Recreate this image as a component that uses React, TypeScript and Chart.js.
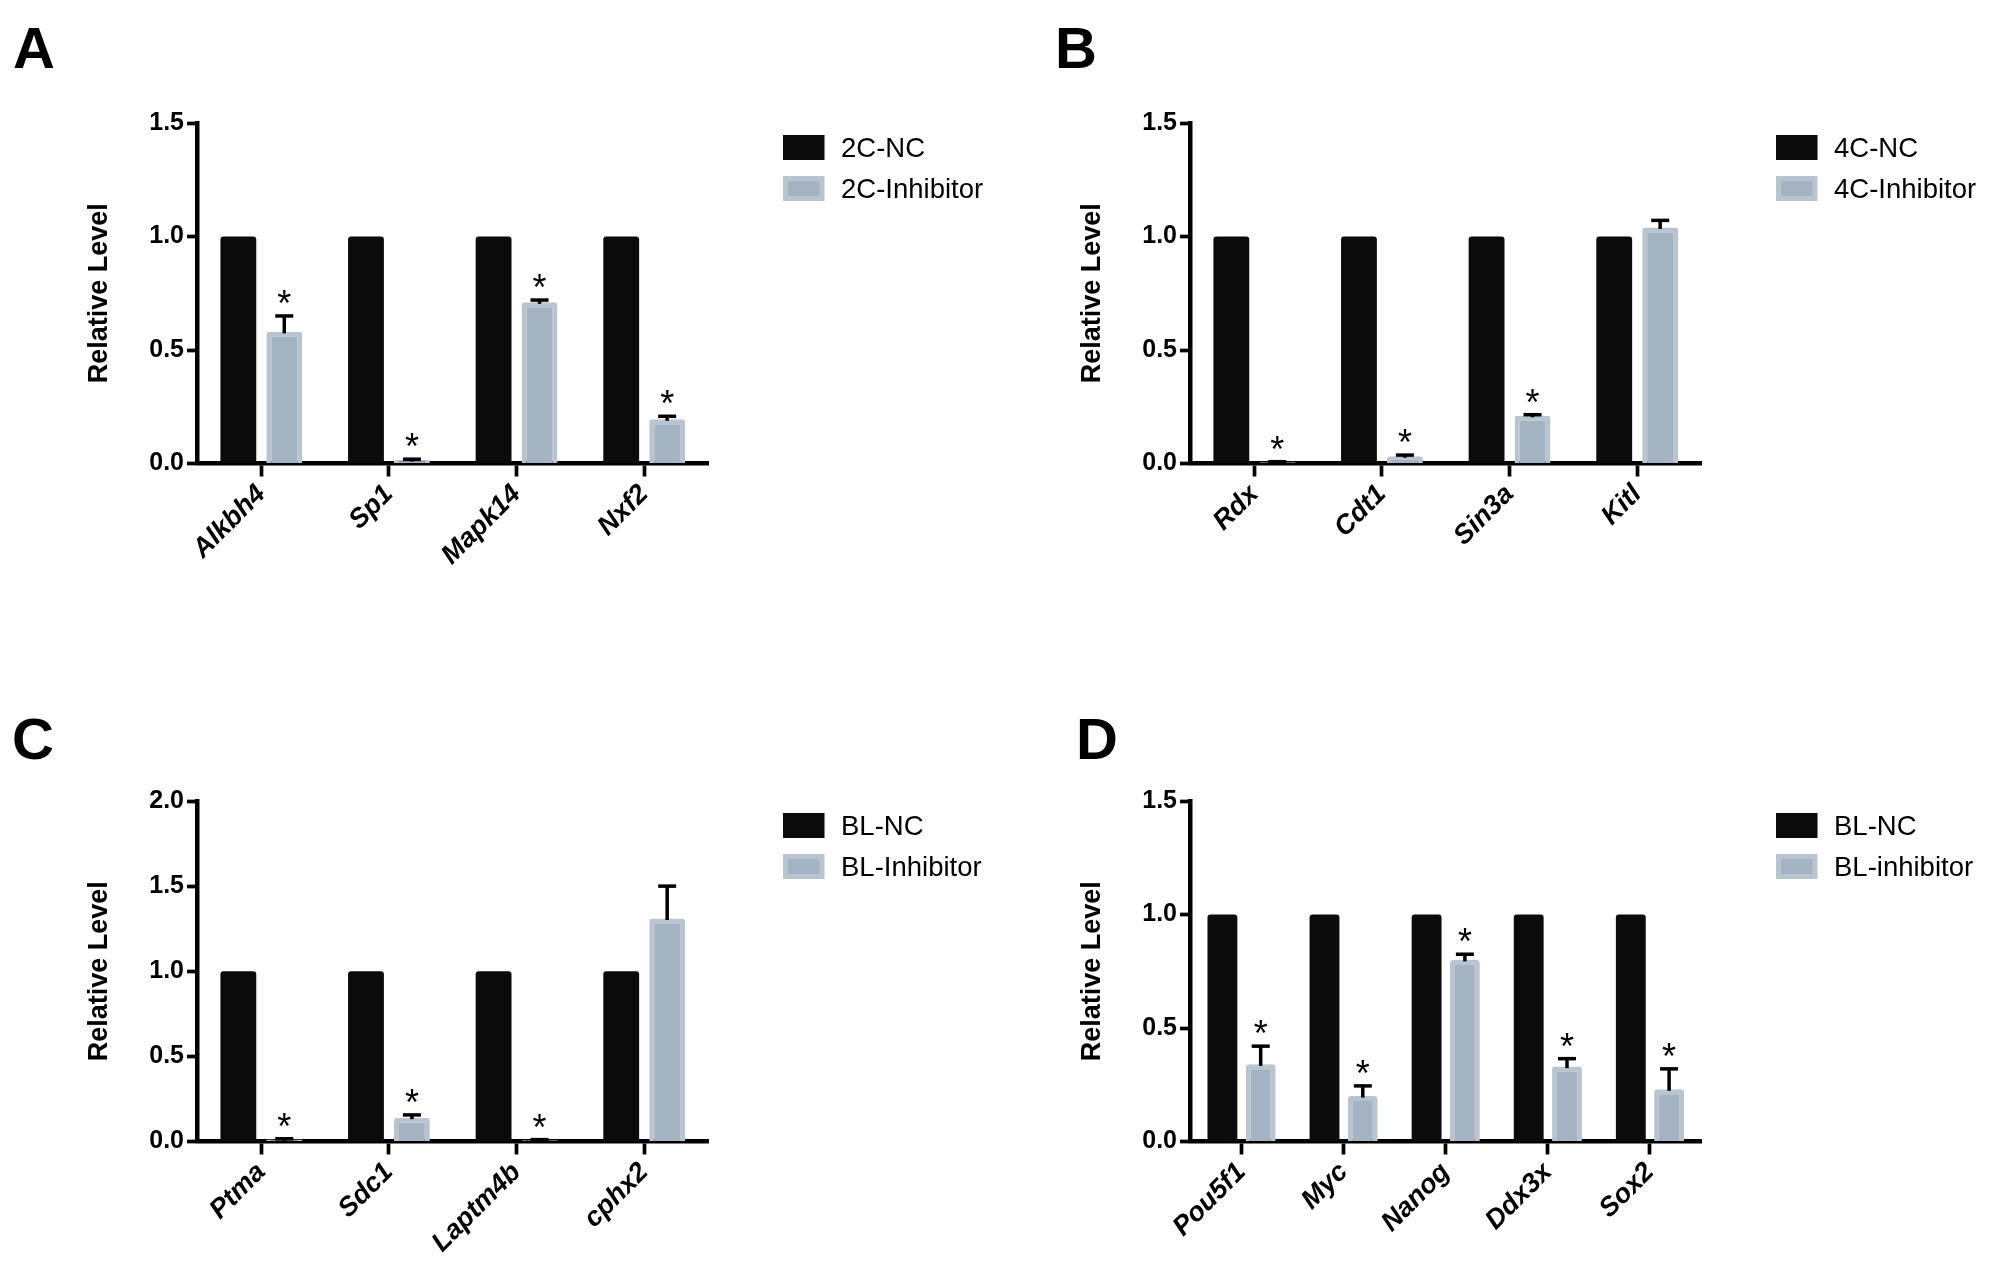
import React, { useEffect, useRef } from "react";
import { Chart, registerables } from "chart.js";

Chart.register(...registerables);

// ---------- data ----------
// Panel A
const catsA = ["Alkbh4", "Sp1", "Mapk14", "Nxf2"];
const seriesA = ["2C-NC", "2C-Inhibitor"];
const ncA = [1, 1, 1, 1];
const inhA = [0.58, 0.015, 0.71, 0.195];
const errA = [0.07, 0.004, 0.01, 0.013];
const sigA = [true, true, true, true];

// Panel B
const catsB = ["Rdx", "Cdt1", "Sin3a", "Kitl"];
const seriesB = ["4C-NC", "4C-Inhibitor"];
const ncB = [1, 1, 1, 1];
const inhB = [0.006, 0.032, 0.21, 1.04];
const errB = [0.002, 0.005, 0.005, 0.031];
const sigB = [true, true, true, false];

// Panel C
const catsC = ["Ptma", "Sdc1", "Laptm4b", "cphx2"];
const seriesC = ["BL-NC", "BL-Inhibitor"];
const ncC = [1, 1, 1, 1];
const inhC = [0.012, 0.14, 0.008, 1.31];
const errC = [0.004, 0.016, 0.003, 0.19];
const sigC = [true, true, true, false];

// Panel D
const catsD = ["Pou5f1", "Myc", "Nanog", "Ddx3x", "Sox2"];
const seriesD = ["BL-NC", "BL-inhibitor"];
const ncD = [1, 1, 1, 1, 1];
const inhD = [0.34, 0.2, 0.8, 0.33, 0.23];
const errD = [0.08, 0.045, 0.025, 0.035, 0.09];
const sigD = [true, true, true, true, true];

// y axis ranges
const yMaxA = 1.5;
const yMaxB = 1.5;
const yMaxC = 2.0;
const yMaxD = 1.5;
const yStep = 0.5;
const yTitle = "Relative Level";

// ---------- style ----------
const FONT = '"Liberation Sans", Arial, Helvetica, sans-serif';
const NC_COLOR = "#0b0b0b";
const INH_FILL = "#a4b3c2";
const INH_BORDER = "#b8c5d1";

const PLOT_TOP = 123;
const PLOT_BOTTOM = 463.5;
const PLOT_LEFT = 197.5;
const PLOT_RIGHT = 708;

type Panel = {
  letter: string;
  letterX: number;
  letterY: number;
  cats: string[];
  series: string[];
  nc: number[];
  inh: number[];
  err: number[];
  sig: boolean[];
  yMax: number;
  left: number;
  top: number;
  w: number;
  h: number;
  catPct: number;
};

const panels: Panel[] = [
  { letter: "A", letterX: 13, letterY: 68, cats: catsA, series: seriesA, nc: ncA, inh: inhA, err: errA, sig: sigA, yMax: yMaxA, left: 0, top: 0, w: 993, h: 678, catPct: 0.72 },
  { letter: "B", letterX: 62, letterY: 68, cats: catsB, series: seriesB, nc: ncB, inh: inhB, err: errB, sig: sigB, yMax: yMaxB, left: 993, top: 0, w: 1015, h: 678, catPct: 0.72 },
  { letter: "C", letterX: 12, letterY: 81, cats: catsC, series: seriesC, nc: ncC, inh: inhC, err: errC, sig: sigC, yMax: yMaxC, left: 0, top: 678, w: 993, h: 604, catPct: 0.72 },
  { letter: "D", letterX: 83, letterY: 81, cats: catsD, series: seriesD, nc: ncD, inh: inhD, err: errD, sig: sigD, yMax: yMaxD, left: 993, top: 678, w: 1015, h: 604, catPct: 0.75 },
];

function makeDecor(p: Panel) {
  return {
    id: "decor" + p.letter,
    afterDatasetsDraw(chart: any) {
      const ctx = chart.ctx as CanvasRenderingContext2D;
      const meta = chart.getDatasetMeta(1);
      const ys = chart.scales.y;
      ctx.save();
      ctx.strokeStyle = "#000";
      ctx.fillStyle = "#000";
      ctx.lineWidth = 3.5;
      ctx.lineCap = "butt";
      p.inh.forEach((v, i) => {
        const bar = meta.data[i];
        const x = bar.x;
        const yBar = ys.getPixelForValue(v);
        const yTop = ys.getPixelForValue(v + p.err[i]);
        ctx.beginPath();
        ctx.moveTo(x, yBar + 1.5);
        ctx.lineTo(x, yTop);
        ctx.stroke();
        ctx.beginPath();
        ctx.moveTo(x - 9, yTop);
        ctx.lineTo(x + 9, yTop);
        ctx.stroke();
        if (p.sig[i]) {
          ctx.font = `36px ${FONT}`;
          ctx.textAlign = "center";
          ctx.textBaseline = "alphabetic";
          ctx.fillText("*", x, yTop - 21 + 21);
        }
      });
      ctx.restore();
    },
    afterDraw(chart: any) {
      const ctx = chart.ctx as CanvasRenderingContext2D;
      ctx.save();
      // panel letter
      ctx.fillStyle = "#000";
      ctx.font = `bold 58px ${FONT}`;
      ctx.textAlign = "left";
      ctx.textBaseline = "alphabetic";
      ctx.fillText(p.letter, p.letterX, p.letterY);
      // legend
      const bx = 783;
      const bw = 41.5;
      const bh = 25;
      const rows = [135, 176];
      const ds = chart.data.datasets;
      ctx.fillStyle = NC_COLOR;
      ctx.fillRect(bx, rows[0], bw, bh);
      ctx.fillStyle = INH_BORDER;
      ctx.fillRect(bx, rows[1], bw, bh);
      ctx.fillStyle = INH_FILL;
      ctx.fillRect(bx + 5, rows[1] + 5, bw - 10, bh - 10);
      ctx.fillStyle = "#000";
      ctx.font = `27.5px ${FONT}`;
      ctx.fillText(ds[0].label, 841, rows[0] + bh / 2 + 9.6);
      ctx.fillText(ds[1].label, 841, rows[1] + bh / 2 + 9.6);
      ctx.restore();
    },
  };
}

function PanelChart({ p }: { p: Panel }) {
  const ref = useRef<HTMLCanvasElement>(null);
  useEffect(() => {
    const canvas = ref.current!;
    const chart = new Chart(canvas, {
      type: "bar",
      data: {
        labels: p.cats,
        datasets: [
          {
            label: p.series[0],
            data: p.nc,
            backgroundColor: NC_COLOR,
            borderWidth: 0,
            borderRadius: 3,
            borderSkipped: "start",
          },
          {
            label: p.series[1],
            data: p.inh,
            backgroundColor: INH_FILL,
            borderColor: INH_BORDER,
            borderWidth: 5,
            borderRadius: 3,
            borderSkipped: "start",
          },
        ],
      },
      options: {
        responsive: false,
        animation: false,
        devicePixelRatio: 1,
        layout: { padding: { left: 0, top: PLOT_TOP, right: p.w - PLOT_RIGHT, bottom: 0 } },
        datasets: { bar: { categoryPercentage: p.catPct, barPercentage: 0.78 } },
        plugins: { legend: { display: false }, tooltip: { enabled: false } },
        scales: {
          x: {
            offset: true,
            grid: {
              display: true,
              offset: false,
              drawOnChartArea: false,
              drawTicks: true,
              tickLength: 13,
              tickWidth: 3.7,
              tickColor: "#000",
              color: "#000",
            },
            border: { display: true, color: "#000", width: 4.5 },
            ticks: {
              autoSkip: false,
              maxRotation: 45,
              minRotation: 45,
              padding: 2,
              color: "#000",
              font: { family: FONT, size: 27, weight: "bold", style: "italic" },
            },
            afterFit: (s: any) => {
              s.height = p.h - PLOT_BOTTOM;
            },
          },
          y: {
            min: 0,
            max: p.yMax,
            grid: {
              display: true,
              drawOnChartArea: false,
              drawTicks: true,
              tickLength: 10.5,
              tickWidth: 3.7,
              tickColor: "#000",
              color: "#000",
            },
            border: { display: true, color: "#000", width: 4.5 },
            ticks: {
              stepSize: yStep,
              padding: 3,
              color: "#000",
              font: { family: FONT, size: 25, weight: "bold" },
              callback: (v: any) => Number(v).toFixed(1),
            },
            title: {
              display: true,
              text: yTitle,
              color: "#000",
              font: { family: FONT, size: 27, weight: "bold", lineHeight: 1 },
              padding: { top: 86.5, bottom: 0 },
            },
            afterFit: (s: any) => {
              s.width = PLOT_LEFT;
            },
          },
        },
      } as any,
      plugins: [makeDecor(p)],
    });
    return () => chart.destroy();
  }, [p]);
  return (
    <canvas
      ref={ref}
      width={p.w}
      height={p.h}
      style={{ position: "absolute", left: p.left, top: p.top, width: p.w, height: p.h }}
    />
  );
}

export default function App() {
  return (
    <div
      style={{
        position: "absolute",
        left: 0,
        top: 0,
        width: 2008,
        height: 1282,
        overflow: "hidden",
        background: "#fff",
      }}
    >
      {panels.map((p) => (
        <PanelChart key={p.letter} p={p} />
      ))}
    </div>
  );
}
